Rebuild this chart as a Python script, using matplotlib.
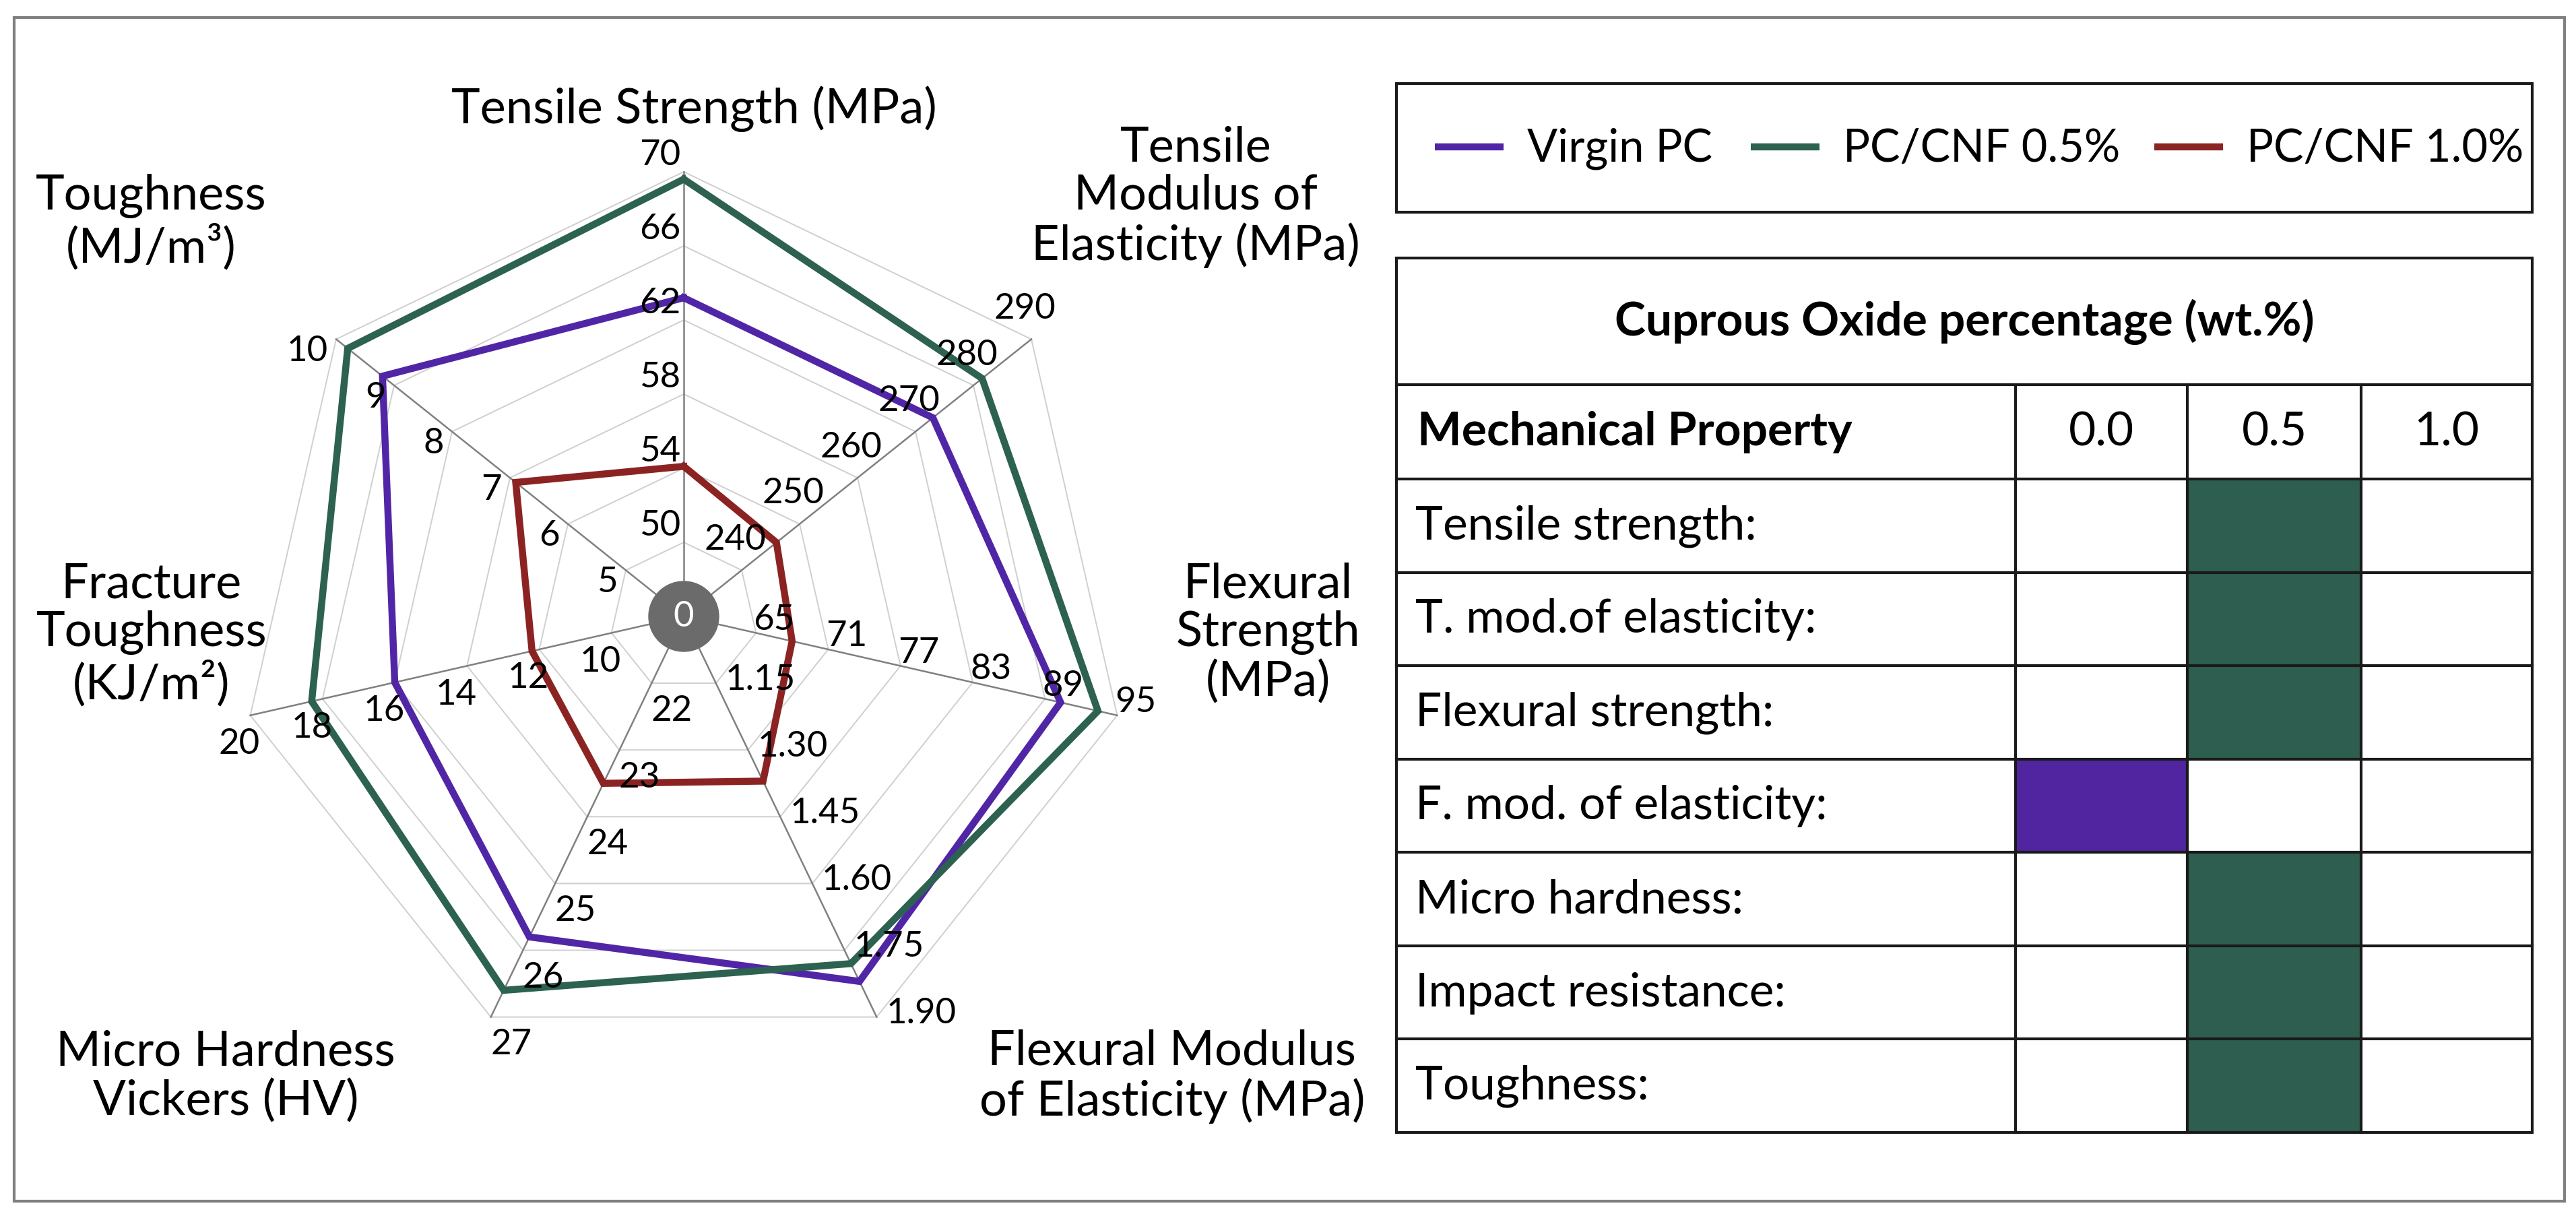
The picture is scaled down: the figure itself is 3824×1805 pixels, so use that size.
import numpy as np
import matplotlib
matplotlib.use("Agg")
import matplotlib.pyplot as plt
from matplotlib.patches import Rectangle, Circle

plt.rcParams['font.family'] = ['Lato', 'DejaVu Sans']

# ---------------- data ----------------
axis_titles = ["Tensile Strength (MPa)",
               "Tensile\nModulus of\nElasticity (MPa)",
               "Flexural\nStrength\n(MPa)",
               "Flexural Modulus\nof Elasticity (MPa)",
               "Micro Hardness\nVickers (HV)",
               "Fracture\nToughness\n(KJ/m²)",
               "Toughness\n(MJ/m³)"]
axis_ticks = [["50", "54", "58", "62", "66", "70"],
              ["240", "250", "260", "270", "280", "290"],
              ["65", "71", "77", "83", "89", "95"],
              ["1.15", "1.30", "1.45", "1.60", "1.75", "1.90"],
              ["22", "23", "24", "25", "26", "27"],
              ["10", "12", "14", "16", "18", "20"],
              ["5", "6", "7", "8", "9", "10"]]
axis_origin = [46, 230, 59, 1.00, 21, 8, 4]
axis_max = [70, 290, 95, 1.90, 27, 20, 10]

series_names = ["Virgin PC", "PC/CNF 0.5%", "PC/CNF 1.0%"]
virgin_pc = [63.2, 273.0, 90.3, 1.82, 25.8, 16.0, 9.2]
pc_cnf_05 = [69.6, 281.5, 93.4, 1.78, 26.6, 18.3, 9.8]
pc_cnf_10 = [54.1, 246.0, 68.0, 1.37, 23.5, 12.2, 6.9]
series_colors = ["#5126A6", "#2D6150", "#8C2323"]

table_title = "Cuprous Oxide percentage (wt.%)"
table_header = "Mechanical Property"
table_columns = ["0.0", "0.5", "1.0"]
table_properties = ["Tensile strength:", "T. mod.of elasticity:", "Flexural strength:",
                    "F. mod. of elasticity:", "Micro hardness:", "Impact resistance:",
                    "Toughness:"]
best_composition = ["0.5", "0.5", "0.5", "0.0", "0.5", "0.5", "0.5"]
cell_colors = {"0.0": "#50259F", "0.5": "#2D5E50", "1.0": "#8C2323"}

# ---------------- figure ----------------
W, H = 3824, 1806
fig = plt.figure(figsize=(W / 100, H / 100), dpi=100)
fig.patch.set_facecolor("white")

# overlay axes in pixel coordinates (frame, titles, legend, table)
ov = fig.add_axes([0, 0, 1, 1])
ov.set_xlim(0, W)
ov.set_ylim(H, 0)
ov.axis("off")

TITLE_FS = 52
TABLE_FS = 50
LEG_FS = 48
TICK_FS = 38

ov.add_patch(Rectangle((21, 27), 3807 - 21, 1784 - 27, fill=False,
                       edgecolor="#808080", lw=3, zorder=1))

# radar axes
cx, cy, R = 1015, 916, 660
rax = fig.add_axes([(cx - R) / W, (H - cy - R) / H, 2 * R / W, 2 * R / H])
rax.set_xlim(-1, 1)
rax.set_ylim(-1, 1)
rax.axis("off")

n = len(axis_titles)
ang = np.deg2rad(90 - np.arange(n) * 360.0 / n)
ux, uy = np.cos(ang), np.sin(ang)
nring = len(axis_ticks[0])

# rings
for k in range(1, nring + 1):
    f = k / nring
    xs = np.append(ux * f, ux[0] * f)
    ys = np.append(uy * f, uy[0] * f)
    rax.plot(xs, ys, color="#cfcfcf", lw=1.4, zorder=1, clip_on=False)
# spokes
for i in range(n):
    rax.plot([0, ux[i]], [0, uy[i]], color="#808080", lw=1.8, zorder=2, clip_on=False)

# series
for name, vals, col in zip(series_names, [virgin_pc, pc_cnf_05, pc_cnf_10], series_colors):
    v = np.array(vals, dtype=float)
    r = (v - np.array(axis_origin)) / (np.array(axis_max) - np.array(axis_origin))
    xs = np.append(ux * r, ux[0] * r[0])
    ys = np.append(uy * r, uy[0] * r[0])
    rax.plot(xs, ys, color=col, lw=7.5, zorder=3, solid_joinstyle="miter",
             clip_on=False, label=name)

# center disc
rax.add_patch(Circle((0, 0), 52 / R, color="#6b6b6b", zorder=4))
rax.text(0, 0, "0", color="white", fontsize=TICK_FS, ha="center", va="center", zorder=5)

# tick labels: (ha, va, dx_px, dy_px_up)
tick_style = [("right", "bottom", -5, 2),
              ("center", "center", -10, 46),
              ("center", "center", 27, 20),
              ("left", "center", 14, 6),
              ("center", "center", 30, -40),
              ("center", "center", -16, -42),
              ("right", "center", -12, -17)]
for i in range(n):
    ha, va, dx, dy = tick_style[i]
    for k, lab in enumerate(axis_ticks[i]):
        f = (k + 1) / nring
        rax.annotate(lab, (ux[i] * f, uy[i] * f), xytext=(dx, dy),
                     textcoords="offset pixels", ha=ha, va=va,
                     fontsize=TICK_FS, color="black", zorder=6,
                     annotation_clip=False)

# axis titles (pixel positions)
title_pos = [(1030, 162), (1775, 292), (1882, 940), (1740, 1598),
             (335, 1598), (225, 942), (224, 330)]
for t, (px, py) in zip(axis_titles, title_pos):
    ov.text(px, py, t, ha="center", va="center", multialignment="center",
            fontsize=TITLE_FS, linespacing=1.13, color="black")

# ---------------- legend ----------------
LX0, LX1, LY0, LY1 = 2073, 3759, 125, 316
ov.add_patch(Rectangle((LX0, LY0), LX1 - LX0, LY1 - LY0, fill=False,
                       edgecolor="#1a1a1a", lw=3, zorder=2))
leg_line_x = [2130, 2599, 3198]
ly = 219
for name, col, x0 in zip(series_names, series_colors, leg_line_x):
    ov.plot([x0, x0 + 102], [ly, ly], color=col, lw=7.5, solid_capstyle="butt")
    ov.text(x0 + 137, ly + 2, name, ha="left", va="center", fontsize=LEG_FS)

# ---------------- table ----------------
TX0, TX1, TY0, TY1 = 2073, 3759, 384, 1682
col_x = [2073, 2992, 3247, 3505, 3759]
head_y = [384, 572, 712]
nrows = len(table_properties)
row_h = (TY1 - head_y[2]) / nrows
row_y = [head_y[2] + k * row_h for k in range(nrows + 1)]

# colored cells
for k, best in enumerate(best_composition):
    j = table_columns.index(best)
    ov.add_patch(Rectangle((col_x[j + 1], row_y[k]), col_x[j + 2] - col_x[j + 1], row_h,
                           facecolor=cell_colors[best], edgecolor="none", zorder=1))

LW_T = 3
ov.add_patch(Rectangle((TX0, TY0), TX1 - TX0, TY1 - TY0, fill=False,
                       edgecolor="#1a1a1a", lw=LW_T, zorder=3))
for y in [head_y[1]] + row_y[:-1]:
    ov.plot([TX0, TX1], [y, y], color="#1a1a1a", lw=LW_T, zorder=3)
for x in col_x[1:-1]:
    ov.plot([x, x], [head_y[1], TY1], color="#1a1a1a", lw=LW_T, zorder=3)

ov.text((TX0 + TX1) / 2, (head_y[0] + head_y[1]) / 2, table_title, ha="center",
        va="center", fontsize=TABLE_FS, fontweight="bold")
ov.text(TX0 + 31, (head_y[1] + head_y[2]) / 2, table_header, ha="left",
        va="center", fontsize=TABLE_FS, fontweight="bold")
for j, c in enumerate(table_columns):
    ov.text((col_x[j + 1] + col_x[j + 2]) / 2, (head_y[1] + head_y[2]) / 2, c,
            ha="center", va="center", fontsize=TABLE_FS)
for k, p in enumerate(table_properties):
    ov.text(TX0 + 28, row_y[k] + row_h / 2, p, ha="left", va="center", fontsize=TABLE_FS)

fig.savefig("out.png", dpi=100, facecolor="white")
